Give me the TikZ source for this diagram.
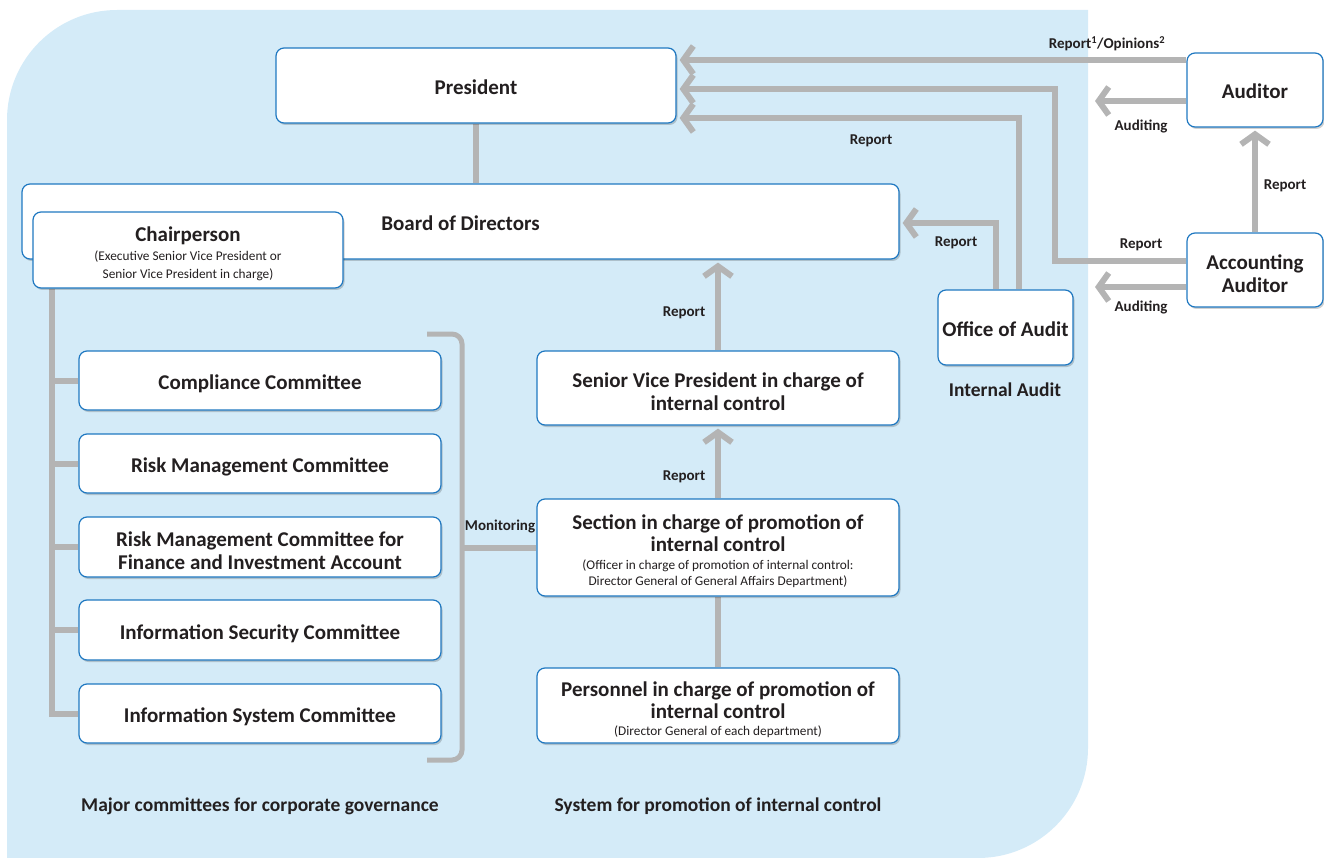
\documentclass[tikz,border=0pt]{standalone}
\usepackage{fontspec}
\setmainfont{Carlito}
\usetikzlibrary{arrows.meta,shadows}
\definecolor{bgblue}{HTML}{D4EBF8}
\definecolor{boxline}{HTML}{1F78C1}
\definecolor{conngray}{HTML}{B4B4B4}
\definecolor{txt}{HTML}{231F20}
\newcommand{\fbig}{\fontsize{21}{22.5}\selectfont\bfseries}
\newcommand{\fsmall}{\fontsize{13.3}{16}\selectfont\mdseries}
\newcommand{\flab}{\fontsize{15}{17}\selectfont\bfseries}
\newcommand{\ts}{\rule[-4.5pt]{0pt}{27pt}}
\pgfdeclarelayer{bg}
\pgfsetlayers{bg,main}
\tikzset{
  box/.style={draw=boxline, line width=1.2pt, fill=white, rounded corners=8pt, inner sep=0pt, align=center,
    text=txt, font=\fbig, drop shadow={shadow xshift=1.5pt, shadow yshift=-2pt, opacity=0.18, fill=black}},
  conn/.style={draw=conngray, line width=6pt},
  arr/.style={conn, -{Straight Barb[length=10pt, width=28pt]}, shorten >=3pt},
  lab/.style={text=txt, font=\flab, inner sep=0pt},
  captext/.style={text=txt, font=\fontsize{19.5}{22}\selectfont\bfseries, inner sep=0pt},
}
\begin{document}
\begin{tikzpicture}[x=1pt, y=-1pt]
\useasboundingbox (0,0) rectangle (1324,858);

% helper coordinates
\coordinate (y60) at (0,60);
\coordinate (y89) at (0,89);
\coordinate (y118) at (0,118);
\coordinate (y223) at (0,223);
\coordinate (y261) at (0,261);
\coordinate (xacc) at (1055,0);
\coordinate (xoffP) at (1019,0);
\coordinate (xoffB) at (996,0);
\coordinate (audA) at (1092,101);
\coordinate (accA) at (1092,287);
\coordinate (trunk) at (52,0);
\coordinate (brT) at (427,334);
\coordinate (brB) at (427,760);
\coordinate (brX) at (462,0);

% nodes
\node[box, minimum width=400, minimum height=75] (pres) at (476,85.5) {\ts President};
\node[box, minimum width=877, minimum height=75] (board) at (460.5,221.5) {\ts Board of Directors};
\node[box, minimum width=310, minimum height=76] (chair) at (188,250) {\ts Chairperson\\[-4pt]{\fsmall (Executive Senior Vice President or}\\[-4pt]{\fsmall Senior Vice President in charge)}};
\node[box, minimum width=136, minimum height=74] (aud) at (1255,90) {\ts Auditor};
\node[box, minimum width=136, minimum height=74] (acc) at (1255,270) {\ts Accounting\\Auditor};
\node[box, minimum width=135, minimum height=75] (off) at (1005.5,327.5) {\ts Office of Audit};
\node[box, minimum width=362, minimum height=74] (svp) at (718,388) {\ts Senior Vice President in charge of\\internal control};
\node[box, minimum width=362, minimum height=97] (sec) at (718,547.5) {\ts Section in charge of promotion of\\internal control\\[-5pt]{\fsmall (Officer in charge of promotion of internal control:}\\[-6pt]{\fsmall Director General of General Affairs Department)}};
\node[box, minimum width=362, minimum height=75] (pers) at (718,705.5) {\ts Personnel in charge of promotion of\\internal control\\[-6pt]{\fsmall (Director General of each department)}};
\node[box, minimum width=362, minimum height=59] (c1) at (260,380.5) {\ts Compliance Committee};
\node[box, minimum width=362, minimum height=59] (c2) at (260,463.5) {\ts Risk Management Committee};
\node[box, minimum width=362, minimum height=60] (c3) at (260,547) {\ts Risk Management Committee for\\Finance and Investment Account};
\node[box, minimum width=362, minimum height=60] (c4) at (260,630) {\ts Information Security Committee};
\node[box, minimum width=362, minimum height=59] (c5) at (260,713.5) {\ts Information System Committee};

% background and connectors (behind nodes)
\begin{pgfonlayer}{bg}
\fill[bgblue] (7,858) -- (7,120) arc[start angle=180, end angle=270, radius=110] -- (1088,10) -- (1088,748) arc[start angle=0, end angle=90, radius=110] -- cycle;
\draw[conn] (pres) -- (pres.south |- board.north);
\draw[arr] (aud.west |- y60) -- (pres.east |- y60);
\draw[arr] (acc.west |- accA) -- (accA);
\draw[arr] (aud.west |- audA) -- (audA);
\draw[arr] (acc.west |- y261) -| (xacc |- y89) -- (pres.east |- y89);
\draw[arr] (off.north -| xoffP) |- (pres.east |- y118);
\draw[arr] (off.north -| xoffB) |- (board.east |- y223);
\draw[arr] (acc.north) -- (aud.south);
\draw[arr] (sec.north) -- (svp.south);
\draw[arr] (svp.north) -- (board.south -| svp.north);
\draw[conn] (pers.north) -- (sec.south);
\draw[conn] (chair.south -| trunk) |- (c5.west);
\foreach \c in {c1,c2,c3,c4} { \draw[conn] (\c.west -| trunk) -- (\c.west); }
\draw[draw=conngray, line width=5pt, rounded corners=10pt] (brT) -| (brX |- brB) -- (brB);
\draw[conn] (brX |- sec.west) -- (sec.west);
\end{pgfonlayer}

% labels
\node[lab] (l1) at (1107,44) {Report\textsuperscript{1}/Opinions\textsuperscript{2}};
\node[lab] (l2) at (1141,126) {Auditing};
\node[lab] (l3) at (871,141) {Report};
\node[lab] (l4) at (1285,186) {Report};
\node[lab] (l5) at (956,243) {Report};
\node[lab] (l6) at (1141,245) {Report};
\node[lab] (l7) at (1141,307) {Auditing};
\node[lab] (l8) at (684,313) {Report};
\node[lab] (l9) at (684,477) {Report};
\node[lab] (l10) at (500,527) {Monitoring};
\node[captext] (l11) at (1005,390) {Internal Audit};
\node[captext] (l12) at (260,806) {Major committees for corporate governance};
\node[captext] (l13) at (718,806) {System for promotion of internal control};
\end{tikzpicture}
\end{document}
